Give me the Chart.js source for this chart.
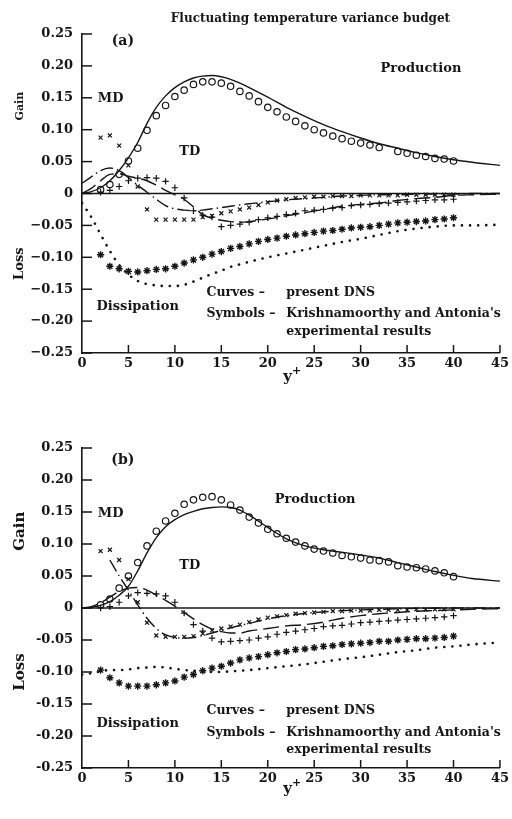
<!DOCTYPE html>
<html>
<head>
<meta charset="utf-8">
<script src="https://cdn.jsdelivr.net/npm/chart.js@4.4.0/dist/chart.umd.min.js"></script>
<style>
  html, body { margin: 0; padding: 0; background: #fff; }
  #wrap { position: relative; width: 512px; height: 819px; }
  canvas { position: absolute; left: 0; }
  #chartA { top: 0; }
  #chartB { top: 410px; }
</style>
</head>
<body>
<div id="wrap">
  <canvas id="chartA" width="512" height="410"></canvas>
  <canvas id="chartB" width="512" height="409"></canvas>
</div>
<script>
// y+ stations of the DNS curves
const curveX = [0, 1, 2, 3, 4, 5, 6, 7, 8, 9, 10, 11, 12, 13, 14, 15, 16, 17, 18,
  20, 22, 24, 26, 28, 30, 32, 34, 36, 38, 40, 42, 45];
// y+ stations of the measured points
const symX = [2, 3, 4, 5, 6, 7, 8, 9, 10, 11, 12, 13, 14, 15, 16, 17, 18, 19, 20, 21,
  22, 23, 24, 25, 26, 27, 28, 29, 30, 31, 32, 33, 34, 35, 36, 37, 38, 39, 40];
const prodSymXA = [2, 3, 4, 5, 6, 7, 8, 9, 10, 11, 12, 13, 14, 15, 16, 17, 18, 19, 20, 21,
  22, 23, 24, 25, 26, 27, 28, 29, 30, 31, 32, 34, 35, 36, 37, 38, 39, 40];
const mdXB = [3, 4, 5, 6, 7, 8, 9, 10, 11, 12, 13, 14, 15, 16, 18, 20, 22, 25, 30, 35, 40, 45];

// (a) DNS curves
const prodA = [0, 0.003, 0.009, 0.02, 0.036, 0.056, 0.08, 0.11, 0.135, 0.153, 0.166, 0.175, 0.181,
  0.184, 0.185, 0.183, 0.179, 0.173, 0.166, 0.151, 0.135, 0.121, 0.108, 0.097, 0.087, 0.078,
  0.071, 0.064, 0.058, 0.053, 0.049, 0.044];
const dissA = [-0.015, -0.037, -0.064, -0.09, -0.112, -0.127, -0.137, -0.142, -0.144, -0.145,
  -0.145, -0.143, -0.138, -0.132, -0.126, -0.121, -0.115, -0.111, -0.107, -0.1, -0.094, -0.088,
  -0.082, -0.076, -0.071, -0.065, -0.059, -0.055, -0.052, -0.05, -0.05, -0.049];
const mdA = [0.016, 0.026, 0.036, 0.04, 0.036, 0.025, 0.013, 0.002, -0.009, -0.019, -0.024,
  -0.026, -0.027, -0.026, -0.024, -0.022, -0.02, -0.018, -0.016, -0.013, -0.01, -0.008, -0.006,
  -0.004, -0.003, -0.002, -0.002, -0.001, -0.001, -0.001, 0, 0];
const tdA = [0, 0.008, 0.02, 0.03, 0.031, 0.027, 0.024, 0.02, 0.013, 0.005, -0.002, -0.009,
  -0.021, -0.033, -0.039, -0.042, -0.044, -0.045, -0.044, -0.04, -0.035, -0.03, -0.025, -0.02,
  -0.017, -0.015, -0.011, -0.008, -0.006, -0.003, -0.002, -0.001];

// (a) Krishnamoorthy & Antonia
const prodSymA = [0.006, 0.014, 0.03, 0.051, 0.071, 0.099, 0.122, 0.138, 0.152, 0.162, 0.171,
  0.175, 0.175, 0.173, 0.168, 0.16, 0.153, 0.144, 0.135, 0.128, 0.12, 0.113, 0.106, 0.1, 0.095,
  0.09, 0.086, 0.082, 0.079, 0.076, 0.072, 0.066, 0.063, 0.06, 0.058, 0.055, 0.054, 0.051];
const dissSymA = [-0.096, -0.114, -0.118, -0.122, -0.123, -0.121, -0.119, -0.118, -0.114,
  -0.109, -0.104, -0.1, -0.095, -0.091, -0.086, -0.083, -0.079, -0.075, -0.072, -0.07, -0.067,
  -0.065, -0.063, -0.061, -0.059, -0.058, -0.056, -0.054, -0.053, -0.052, -0.05, -0.048, -0.046,
  -0.045, -0.044, -0.043, -0.041, -0.04, -0.038];
const mdSymA = [0.0875, 0.091, 0.075, 0.044, 0.011, -0.025, -0.041, -0.041, -0.041, -0.041,
  -0.041, -0.037, -0.035, -0.031, -0.028, -0.025, -0.022, -0.018, -0.014, -0.011, -0.009, -0.007,
  -0.006, -0.005, -0.005, -0.004, -0.004, -0.004, -0.003, -0.003, -0.003, -0.003, -0.003, -0.002,
  -0.002, -0.002, -0.002, -0.002, -0.002];
const tdSymA = [0.002, 0.005, 0.011, 0.02, 0.024, 0.025, 0.024, 0.019, 0.009, -0.007, -0.027,
  -0.034, -0.037, -0.052, -0.05, -0.048, -0.045, -0.041, -0.038, -0.036, -0.033, -0.031, -0.027,
  -0.026, -0.025, -0.023, -0.022, -0.019, -0.018, -0.017, -0.016, -0.015, -0.014, -0.013, -0.012,
  -0.011, -0.01, -0.01, -0.009];

// (b) DNS curves
const prodB = [0, 0.001, 0.004, 0.01, 0.02, 0.034, 0.058, 0.086, 0.11, 0.127, 0.138, 0.146,
  0.151, 0.155, 0.157, 0.158, 0.157, 0.153, 0.145, 0.126, 0.108, 0.097, 0.091, 0.087, 0.083,
  0.078, 0.071, 0.064, 0.057, 0.051, 0.046, 0.042];
const dissB = [-0.104, -0.102, -0.099, -0.097, -0.097, -0.096, -0.094, -0.093, -0.092, -0.093,
  -0.095, -0.097, -0.098, -0.099, -0.1, -0.1, -0.099, -0.098, -0.097, -0.094, -0.091, -0.088,
  -0.084, -0.08, -0.077, -0.073, -0.069, -0.066, -0.062, -0.06, -0.057, -0.054];
const mdB = [0.075, 0.05, 0.028, 0.005, -0.016, -0.032, -0.042, -0.046, -0.047, -0.046, -0.043,
  -0.039, -0.035, -0.031, -0.024, -0.017, -0.012, -0.007, -0.003, -0.001, 0, 0];
const tdB = [0, 0.002, 0.008, 0.017, 0.026, 0.031, 0.032, 0.028, 0.02, 0.012, 0.003, -0.007,
  -0.017, -0.026, -0.033, -0.037, -0.039, -0.039, -0.036, -0.032, -0.028, -0.026, -0.022, -0.016,
  -0.012, -0.009, -0.007, -0.005, -0.004, -0.003, -0.002, -0.001];

// (b) Krishnamoorthy & Antonia
const prodSymB = [0.005, 0.014, 0.031, 0.05, 0.071, 0.097, 0.12, 0.136, 0.148, 0.162, 0.169,
  0.173, 0.174, 0.169, 0.161, 0.153, 0.142, 0.133, 0.123, 0.116, 0.109, 0.103, 0.097, 0.092,
  0.089, 0.086, 0.082, 0.08, 0.078, 0.075, 0.074, 0.072, 0.066, 0.064, 0.063, 0.061, 0.058,
  0.055, 0.049];
const dissSymB = [-0.097, -0.109, -0.117, -0.122, -0.122, -0.122, -0.12, -0.117, -0.114, -0.108,
  -0.104, -0.098, -0.094, -0.091, -0.086, -0.081, -0.078, -0.076, -0.073, -0.07, -0.068, -0.065,
  -0.064, -0.062, -0.06, -0.059, -0.057, -0.056, -0.055, -0.054, -0.052, -0.052, -0.05, -0.049,
  -0.048, -0.048, -0.047, -0.046, -0.044];
const mdSymB = [0.089, 0.091, 0.075, 0.045, 0.009, -0.023, -0.043, -0.045, -0.045, -0.045,
  -0.044, -0.04, -0.035, -0.032, -0.029, -0.026, -0.022, -0.018, -0.015, -0.013, -0.011, -0.009,
  -0.008, -0.007, -0.006, -0.005, -0.005, -0.004, -0.004, -0.004, -0.003, -0.003, -0.003, -0.003,
  -0.002, -0.002, -0.002, -0.002, -0.002];
const tdSymB = [0, 0.002, 0.009, 0.019, 0.024, 0.023, 0.022, 0.019, 0.009, -0.008, -0.026,
  -0.036, -0.047, -0.053, -0.052, -0.051, -0.05, -0.047, -0.045, -0.041, -0.038, -0.036, -0.034,
  -0.032, -0.029, -0.028, -0.027, -0.025, -0.023, -0.022, -0.021, -0.02, -0.019, -0.018, -0.017,
  -0.016, -0.015, -0.014, -0.012];

const INK = '#161616';
const SERIF = "'DejaVu Serif', 'Liberation Serif', serif";

Chart.defaults.font.family = SERIF;
Chart.defaults.font.weight = 'bold';
Chart.defaults.font.size = 13;
Chart.defaults.color = INK;

function pts(xs, ys) {
  return xs.map((x, i) => ({ x: x, y: ys[i] }));
}

function curve(xs, ys, dash, width, cap) {
  return {
    data: pts(xs, ys),
    showLine: true,
    borderColor: INK,
    borderWidth: width || 1.4,
    borderDash: dash || [],
    borderCapStyle: cap || 'butt',
    cubicInterpolationMode: 'monotone',
    pointRadius: 0,
    fill: false
  };
}

function symbols(xs, ys, style, r, w) {
  return {
    data: pts(xs, ys),
    showLine: false,
    pointStyle: style,
    pointRadius: r,
    pointBorderWidth: w || 1.2,
    pointBorderColor: INK,
    pointBackgroundColor: 'rgba(0,0,0,0)'
  };
}

// axes ticks pointing inward, the zero line and all the labels
function decor(cfg) {
  return {
    id: 'decor',
    beforeDatasetsDraw(chart) {
      const { ctx, chartArea: a, scales: { x, y } } = chart;
      ctx.save();
      ctx.strokeStyle = INK;
      ctx.lineWidth = 1.6;
      const y0 = y.getPixelForValue(0);
      ctx.beginPath();
      ctx.moveTo(a.left, y0);
      ctx.lineTo(a.right, y0);
      ctx.stroke();
      ctx.lineWidth = 1.5;
      y.ticks.forEach(t => {
        const py = y.getPixelForValue(t.value);
        ctx.beginPath();
        ctx.moveTo(a.left, py);
        ctx.lineTo(a.left + 10, py);
        ctx.stroke();
      });
      x.ticks.forEach(t => {
        if (t.value === 0) return;
        const px = x.getPixelForValue(t.value);
        ctx.beginPath();
        ctx.moveTo(px, a.bottom);
        ctx.lineTo(px, a.bottom - 8);
        ctx.stroke();
      });
      ctx.restore();
    },
    afterDraw(chart) {
      const { ctx, scales: { x, y } } = chart;
      ctx.save();
      ctx.fillStyle = INK;
      ctx.textBaseline = 'middle';
      cfg.labels.forEach(l => {
        ctx.font = 'bold ' + (l.size || 13) + 'px ' + SERIF;
        ctx.textAlign = l.align || 'left';
        ctx.fillText(l.text, x.getPixelForValue(l.x), y.getPixelForValue(l.y));
      });
      // rotated Gain / Loss
      cfg.side.forEach(s => {
        ctx.save();
        ctx.translate(20, y.getPixelForValue(s.y));
        ctx.rotate(-Math.PI / 2);
        ctx.textAlign = 'center';
        ctx.font = 'bold ' + s.size + 'px ' + SERIF;
        ctx.fillText(s.text, 0, 0);
        ctx.restore();
      });
      // y+ under the axis
      const cx = x.getPixelForValue(22.5);
      ctx.textBaseline = 'alphabetic';
      ctx.textAlign = 'right';
      ctx.font = 'bold 15px ' + SERIF;
      ctx.fillText('y', cx + 1, cfg.yPlusBase);
      ctx.textAlign = 'left';
      ctx.font = 'bold 11px ' + SERIF;
      ctx.fillText('+', cx + 1, cfg.yPlusBase - 7);
      ctx.restore();
    }
  };
}

function makePanel(id, cfg) {
  return new Chart(document.getElementById(id), {
    type: 'scatter',
    data: {
      datasets: [
        symbols(cfg.prodSymX, cfg.prodSym, 'circle', 3.2),
        symbols(symX, cfg.dissSym, 'star', 3.6, 1.4),
        symbols(symX, cfg.mdSym, 'crossRot', 2.8),
        symbols(symX, cfg.tdSym, 'cross', 3.2),
        curve(curveX, cfg.prod, [], 1.4),
        curve(curveX, cfg.diss, [0.1, 8], 2.6, 'round'),
        curve(cfg.mdX, cfg.md, [13, 4, 1.5, 4], 1.4),
        curve(curveX, cfg.td, [16, 6], 1.4)
      ]
    },
    options: {
      responsive: false,
      animation: false,
      events: [],
      layout: { padding: { left: 0, right: 9, top: cfg.top, bottom: 0 } },
      plugins: { legend: { display: false }, tooltip: { enabled: false } },
      scales: {
        x: {
          type: 'linear', min: 0, max: 45,
          afterFit: s => { s.height = cfg.xAxisH; },
          ticks: { stepSize: 5, padding: 3 },
          grid: { drawOnChartArea: false, drawTicks: false },
          border: { display: true, color: INK, width: 1.6 }
        },
        y: {
          type: 'linear', min: -0.25, max: 0.25,
          afterFit: s => { s.width = 82; },
          ticks: {
            stepSize: 0.05, padding: 9,
            callback: v => Math.abs(v) < 1e-9 ? '0' : (v < 0 ? cfg.minus : '') + Math.abs(v).toFixed(2)
          },
          grid: { drawOnChartArea: false, drawTicks: false },
          border: { display: true, color: INK, width: 1.6 }
        }
      }
    },
    plugins: [decor(cfg)]
  });
}

const legendLines = (yc, ys, ye) => [
  { text: 'Curves \u2013', x: 13.4, y: yc, size: 12.5 },
  { text: 'present DNS', x: 22, y: yc, size: 12.5 },
  { text: 'Symbols \u2013', x: 13.4, y: ys, size: 12.5 },
  { text: "Krishnamoorthy and Antonia's", x: 22, y: ys, size: 12.5 },
  { text: 'experimental results', x: 22, y: ye, size: 12.5 }
];

makePanel('chartA', {
  top: 34, xAxisH: 57, yPlusBase: 381, minus: '\u2212',
  prod: prodA, diss: dissA, md: mdA, mdX: curveX, td: tdA,
  prodSymX: prodSymXA, prodSym: prodSymA, dissSym: dissSymA, mdSym: mdSymA, tdSym: tdSymA,
  labels: [
    { text: 'Fluctuating temperature variance budget', x: 24.6, y: 0.273, align: 'center', size: 12 },
    { text: '(a)', x: 4.4, y: 0.239, align: 'center', size: 14 },
    { text: 'Production', x: 36.5, y: 0.195, align: 'center' },
    { text: 'MD', x: 1.7, y: 0.148 },
    { text: 'TD', x: 11.6, y: 0.066, align: 'center' },
    { text: 'Dissipation', x: 6.0, y: -0.177, align: 'center' }
  ].concat(legendLines(-0.156, -0.189, -0.217)),
  side: [
    { text: 'Gain', y: 0.137, size: 11 },
    { text: 'Loss', y: -0.11, size: 13 }
  ]
});

makePanel('chartB', {
  top: 38, xAxisH: 51, yPlusBase: 383, minus: '-',
  prod: prodB, diss: dissB, md: mdB, mdX: mdXB, td: tdB,
  prodSymX: symX, prodSym: prodSymB, dissSym: dissSymB, mdSym: mdSymB, tdSym: tdSymB,
  labels: [
    { text: '(b)', x: 4.4, y: 0.231, align: 'center', size: 14 },
    { text: 'Production', x: 25.1, y: 0.17, align: 'center' },
    { text: 'MD', x: 1.7, y: 0.148 },
    { text: 'TD', x: 11.6, y: 0.066, align: 'center' },
    { text: 'Dissipation', x: 6.0, y: -0.18, align: 'center' }
  ].concat(legendLines(-0.161, -0.195, -0.222)),
  side: [
    { text: 'Gain', y: 0.12, size: 15 },
    { text: 'Loss', y: -0.1, size: 15 }
  ]
});
</script>
</body>
</html>
